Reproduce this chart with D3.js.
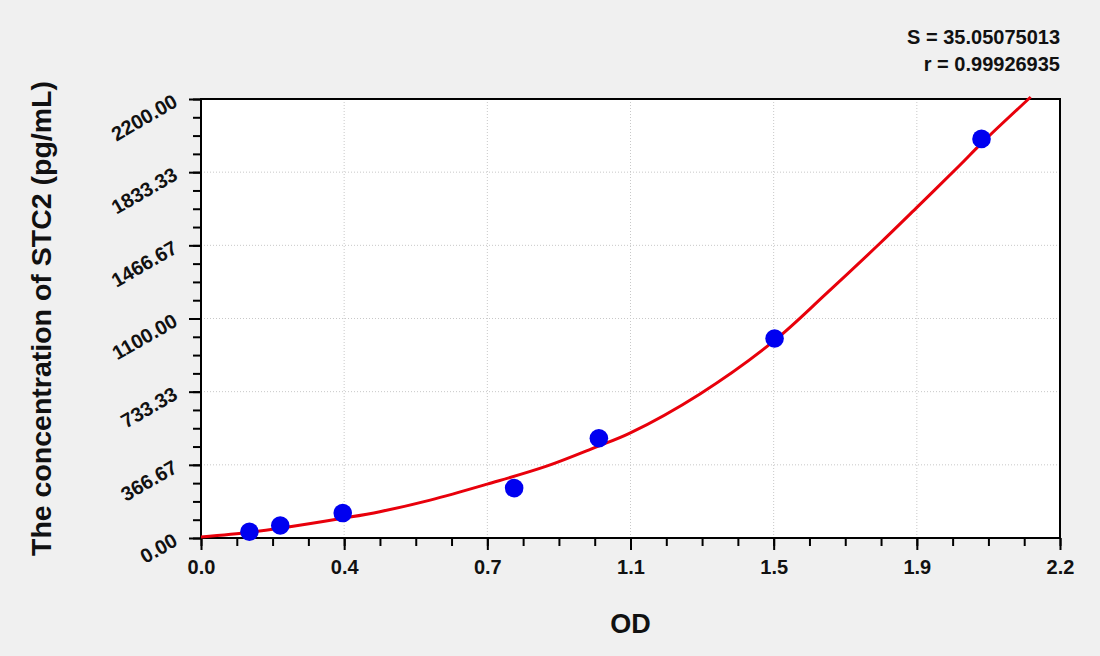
<!DOCTYPE html>
<meta charset="utf-8">
<script src="https://cdn.jsdelivr.net/npm/d3@7"></script>
<style>
	body{margin:0;background:#f0f0f0;font-family:"Liberation Sans",Arial,sans-serif;}
	text{font-weight:bold;fill:#111;}
</style>
<div id="chart"></div>
<script>
// standard points (OD, concentration)
var pointOD = [0.124, 0.203, 0.363, 0.802, 1.019, 1.469, 1.999]
var pointConc = [31.25, 62.5, 125, 250, 500, 1000, 2000]

// fitted curve
var curveOD = [0.0, 0.126, 0.202, 0.363, 0.458, 0.587, 0.733, 0.885, 1.013, 1.097, 1.278, 1.466, 1.602, 1.739, 1.831, 1.944, 2.0, 2.125]
var curveConc = [5, 29, 49, 99, 132, 190, 270, 360, 457, 524, 722, 985, 1226, 1477, 1652, 1869, 1980, 2210]

var xTicks = [0, 2.2/6, 4.4/6, 1.1, 8.8/6, 11/6, 2.2]
var xTickLabels = ["0.0", "0.4", "0.7", "1.1", "1.5", "1.9", "2.2"]
var yTicks = [0, 366.67, 733.33, 1100, 1466.67, 1833.33, 2200]

var statS = "S = 35.05075013"
var statR = "r = 0.99926935"

var width = 1100, height = 656
var m = {left:201, top:99, right:40, bottom:118}
var w = width - m.left - m.right
var h = height - m.top - m.bottom

var svg = d3.select("#chart").append("svg")
	.attr("width", width)
	.attr("height", height)

var xScale = d3.scaleLinear().domain([0,2.2]).range([0,w])
var yScale = d3.scaleLinear().domain([0,2200]).range([h,0])

var g = svg.append("g").attr("transform","translate("+m.left+","+m.top+")")

g.append("rect").attr("width",w).attr("height",h).attr("fill","#fff")

// grid
g.append("g").selectAll("line").data(xTicks.slice(1,-1)).enter().append("line")
	.attr("x1",function(d){return xScale(d)}).attr("x2",function(d){return xScale(d)})
	.attr("y1",0).attr("y2",h)
	.attr("stroke","#c8c8c8").attr("stroke-dasharray","1,2")
g.append("g").selectAll("line").data(yTicks.slice(1,-1)).enter().append("line")
	.attr("y1",function(d){return yScale(d)}).attr("y2",function(d){return yScale(d)})
	.attr("x1",0).attr("x2",w)
	.attr("stroke","#c8c8c8").attr("stroke-dasharray","1,2")

// minor ticks
var xMinor = d3.range(25).map(function(i){return i*2.2/24})
var yMinor = d3.range(25).map(function(i){return i*2200/24})
g.append("g").attr("transform","translate(0,"+h+")")
	.call(d3.axisBottom(xScale).tickValues(xMinor).tickSize(8).tickFormat(""))
	.call(function(a){a.select(".domain").remove()})
	.selectAll("line").attr("stroke","#000").attr("stroke-width",2)
g.append("g")
	.call(d3.axisLeft(yScale).tickValues(yMinor).tickSize(8).tickFormat(""))
	.call(function(a){a.select(".domain").remove()})
	.selectAll("line").attr("stroke","#000").attr("stroke-width",2)

// major axes
var xAxis = g.append("g").attr("transform","translate(0,"+h+")")
	.call(d3.axisBottom(xScale).tickValues(xTicks).tickSize(12).tickPadding(10)
		.tickFormat(function(d,i){return xTickLabels[i]}))
xAxis.select(".domain").remove()
xAxis.selectAll("line").attr("stroke","#000").attr("stroke-width",2)
xAxis.selectAll("text").style("font-size","20px").style("font-family","Liberation Sans, Arial").attr("fill","#111")

var yAxis = g.append("g")
	.call(d3.axisLeft(yScale).tickValues(yTicks).tickSize(12).tickFormat(d3.format(".2f")))
yAxis.select(".domain").remove()
yAxis.selectAll("line").attr("stroke","#000").attr("stroke-width",2)
yAxis.selectAll("text")
	.style("font-size","20px").style("font-family","Liberation Sans, Arial").attr("fill","#111")
	.attr("x",null).attr("dy",null)
	.attr("text-anchor","end")
	.attr("transform","translate(-22,6) rotate(-30)")

// frame
g.append("rect").attr("width",w).attr("height",h)
	.attr("fill","none").attr("stroke","#000").attr("stroke-width",2)

// curve
var curveData = curveOD.map(function(d,i){return {x:d,y:curveConc[i]}})
g.append("path").datum(curveData)
	.attr("fill","none").attr("stroke","#e8000b").attr("stroke-width",3)
	.attr("d", d3.line().curve(d3.curveCatmullRom)
		.x(function(d){return xScale(d.x)})
		.y(function(d){return yScale(d.y)}))

// points
g.append("g").selectAll("circle").data(pointOD).enter().append("circle")
	.attr("cx",function(d){return xScale(d)})
	.attr("cy",function(d,i){return yScale(pointConc[i])})
	.attr("r",9.3)
	.attr("fill","#0000f0")

// titles
svg.append("text").attr("x",m.left+w/2).attr("y",633)
	.attr("text-anchor","middle").style("font-size","27px").text("OD")
svg.append("text").attr("transform","translate(51,"+(m.top+h/2)+") rotate(-90)")
	.attr("text-anchor","middle").style("font-size","28.5px")
	.text("The concentration of STC2 (pg/mL)")

svg.append("text").attr("x",m.left+w).attr("y",44).attr("text-anchor","end")
	.style("font-size","20px").text(statS)
svg.append("text").attr("x",m.left+w).attr("y",71).attr("text-anchor","end")
	.style("font-size","20px").text(statR)
</script>
